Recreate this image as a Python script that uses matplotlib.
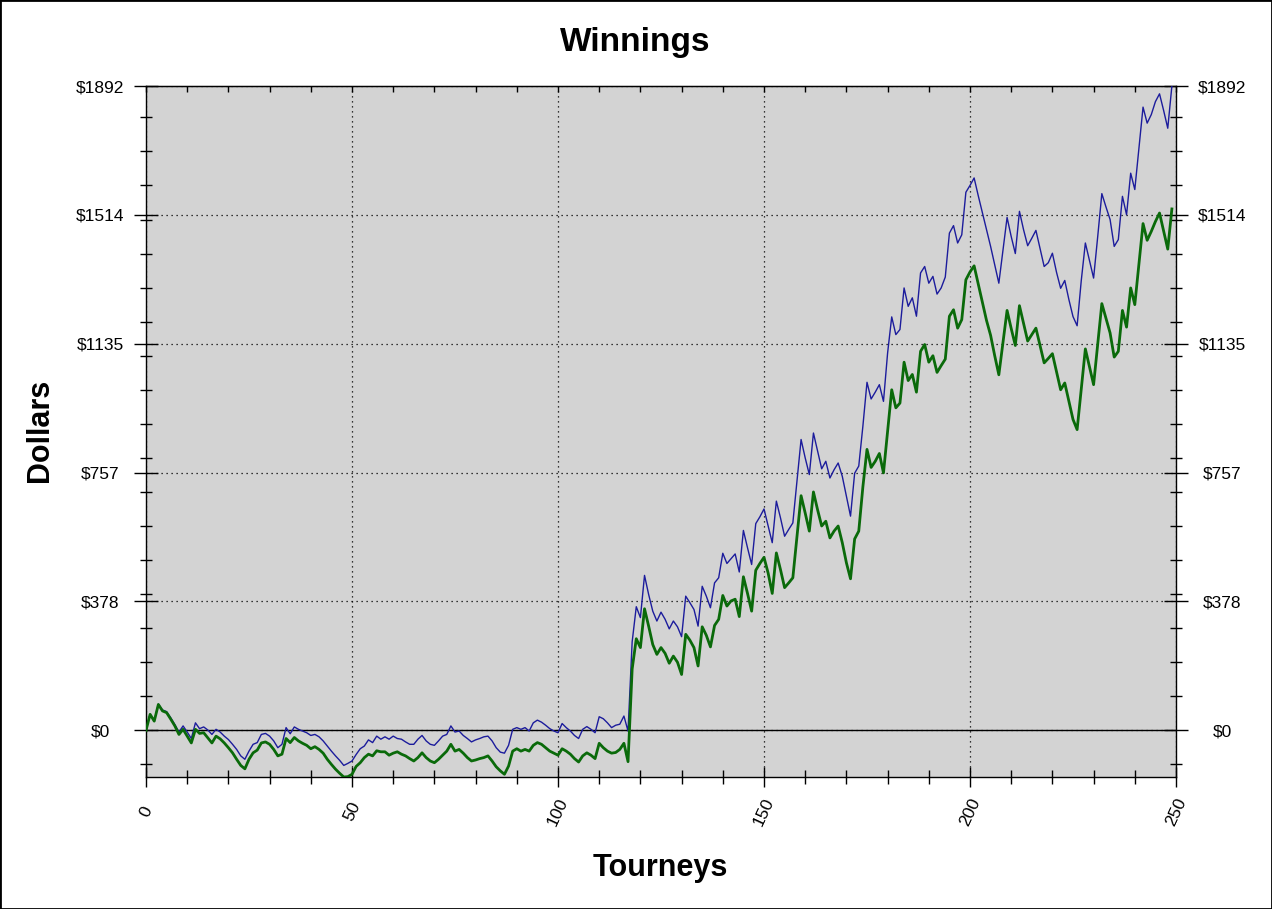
import matplotlib
matplotlib.use("Agg")
import matplotlib.pyplot as plt
from matplotlib.ticker import FixedLocator, MultipleLocator

plt.rcParams['font.family'] = ['Liberation Sans', 'DejaVu Sans']

# cumulative winnings per tourney
blue_winnings = [
    0, 47, 28, 77, 60, 55, 37, 17, -5, 13,
    -5, -24, 22, 5, 10, 1, -12, 3, -5, -17,
    -27, -41, -56, -75, -85, -61, -41, -36, -12, -9,
    -17, -31, -51, -41, 8, -10, 10, 3, -2, -7,
    -15, -12, -19, -31, -46, -61, -75, -88, -103, -97,
    -90, -71, -54, -46, -28, -36, -17, -26, -19, -26,
    -17, -24, -26, -34, -41, -41, -26, -15, -31, -41,
    -44, -31, -17, -12, 13, -5, -2, -15, -24, -34,
    -28, -24, -19, -17, -31, -51, -64, -67, -44, 3,
    8, 3, 8, -2, 22, 30, 24, 15, 5, -2,
    -7, 20, 8, -2, -15, -24, 3, 11, 3, -7,
    40, 34, 22, 8, 15, 18, 42, -2, 260, 363,
    331, 455, 399, 350, 321, 347, 326, 298, 321, 304,
    275, 394, 375, 355, 306, 423, 394, 360, 433, 448,
    520, 490, 504, 518, 465, 587, 536, 487, 607, 627,
    650, 600, 551, 673, 624, 570, 590, 609, 731, 854,
    800, 751, 873, 820, 768, 790, 741, 765, 785, 746,
    688, 629, 755, 776, 893, 1022, 973, 993, 1015, 966,
    1108, 1214, 1162, 1177, 1299, 1245, 1270, 1216, 1343, 1362,
    1313, 1333, 1281, 1299, 1331, 1460, 1482, 1431, 1455, 1580,
    1600, 1622, 1570, 1520, 1470, 1421, 1367, 1313, 1410, 1506,
    1450, 1400, 1524, 1470, 1423, 1445, 1468, 1415, 1362, 1373,
    1401, 1345, 1298, 1321, 1265, 1215, 1188, 1320, 1431, 1380,
    1328, 1450, 1576, 1537, 1500, 1421, 1441, 1568, 1514, 1636,
    1588, 1710, 1830, 1783, 1808, 1846, 1869, 1820, 1768, 1892,
]

green_winnings = [
    0, 47, 27, 76, 57, 52, 33, 13, -12, 3,
    -17, -37, 3, -9, -7, -22, -37, -17, -25, -37,
    -51, -66, -85, -103, -113, -85, -66, -58, -37, -34,
    -41, -56, -75, -70, -24, -36, -21, -31, -38, -44,
    -54, -48, -56, -67, -85, -100, -114, -126, -137, -136,
    -129, -106, -95, -80, -70, -75, -60, -63, -63, -73,
    -67, -63, -70, -75, -83, -90, -80, -66, -80, -90,
    -95, -85, -73, -61, -41, -61, -56, -67, -80, -90,
    -87, -83, -80, -75, -90, -107, -119, -129, -105, -61,
    -54, -61, -56, -61, -44, -36, -41, -51, -61, -67,
    -73, -54, -61, -70, -83, -93, -75, -66, -73, -83,
    -38, -51, -61, -67, -65, -56, -38, -92, 180, 269,
    243, 357, 306, 252, 223, 243, 226, 197, 218, 200,
    164, 282, 265, 243, 189, 304, 279, 245, 308, 326,
    396, 365, 380, 385, 334, 451, 402, 350, 470, 490,
    508, 462, 402, 521, 472, 419, 433, 448, 570, 689,
    638, 585, 700, 648, 600, 614, 565, 585, 600, 551,
    492, 445, 562, 585, 715, 825, 772, 790, 813, 756,
    878, 1000, 947, 961, 1081, 1027, 1045, 993, 1113, 1133,
    1081, 1100, 1051, 1071, 1090, 1216, 1235, 1181, 1206, 1323,
    1346, 1364, 1311, 1257, 1204, 1160, 1100, 1044, 1138, 1233,
    1180, 1130, 1247, 1195, 1143, 1162, 1181, 1130, 1079, 1092,
    1106, 1053, 1000, 1020, 966, 913, 883, 1000, 1120, 1067,
    1015, 1135, 1253, 1210, 1167, 1096, 1113, 1233, 1184, 1299,
    1250, 1370, 1488, 1439, 1465, 1494, 1519, 1466, 1413, 1531,
]

tourneys = list(range(len(blue_winnings)))

x_major = [0, 50, 100, 150, 200, 250]
y_major = [0, 378.4, 756.8, 1135.2, 1513.6, 1892]
y_labels = ['$0', '$378', '$757', '$1135', '$1514', '$1892']

fig = plt.figure(figsize=(12.72, 9.09), dpi=100)
ax = fig.add_axes([146 / 1272, 132 / 909, 1030 / 1272, 691 / 909])
ax.set_facecolor('#d3d3d3')

ax.plot(tourneys, blue_winnings, color='#1c1c9c', lw=1, zorder=3)
ax.plot(tourneys, green_winnings, color='#0a6a0a', lw=2, zorder=4)
ax.axhline(0, color='black', lw=1, zorder=2)

ax.set_xlim(0, 250)
ax.set_ylim(-137, 1892)

# x axis (tick lengths in points: px * 0.72)
ax.set_xticks(x_major)
ax.set_xticklabels([str(v) for v in x_major], rotation=65, ha='center', va='center',
                   fontsize=12.5)
ax.xaxis.set_minor_locator(MultipleLocator(10))
ax.tick_params(axis='x', which='major', direction='inout', length=13.7, width=1, pad=18)
ax.tick_params(axis='x', which='minor', direction='inout', length=9.4, width=1)

top = ax.secondary_xaxis('top')
top.set_xticks(range(0, 251, 10))
top.set_xticklabels([])
top.tick_params(direction='in', length=4.3, width=1)

# y axis, centred labels on both sides
ax.set_yticks(y_major)
ax.set_yticklabels(y_labels, fontsize=12.5)
ax.yaxis.set_minor_locator(FixedLocator([v for v in range(-100, 1900, 100) if v != 0]))
ax.tick_params(axis='y', which='both', left=True, right=True, labelleft=True, labelright=True)
ax.tick_params(axis='y', which='major', direction='inout', length=17.3, width=1, pad=24.5)
ax.tick_params(axis='y', which='minor', direction='inout', length=8, width=1)

ax.grid(True, which='major', color='black', linestyle=(0, (1, 3)), lw=0.9)
ax.set_axisbelow(False)
for s in ax.spines.values():
    s.set_color('black')
    s.set_linewidth(1)

fig.text(635 / 1272, 1 - 42 / 909, 'Winnings', ha='center', va='center',
         fontsize=24, fontweight='bold')
fig.text(660 / 1272, 1 - 868 / 909, 'Tourneys', ha='center', va='center',
         fontsize=22, fontweight='bold')
fig.text(40 / 1272, 1 - 430 / 909, 'Dollars', ha='center', va='center',
         rotation=90, fontsize=22, fontweight='bold')

# frame round the whole picture
fig.patches.append(plt.Rectangle((0, 0), 1, 1, transform=fig.transFigure,
                                 fill=False, edgecolor='black', lw=2))

for tick in ax.yaxis.get_major_ticks():
    tick.label1.set_horizontalalignment('center')
    tick.label2.set_horizontalalignment('center')

fig.savefig('out.png', dpi=100, facecolor='white')
